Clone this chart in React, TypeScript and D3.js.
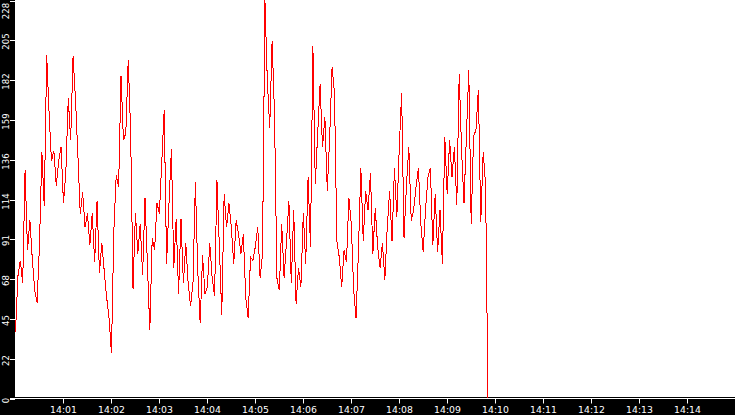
import { useEffect, useRef } from 'react';
import * as d3 from 'd3';

// samples every 3 s starting 14:00:00
const startTime = new Date(2024, 0, 1, 14, 0, 0);
const sampleStepSec = 3;
const endTime = new Date(2024, 0, 1, 14, 15, 0);

const values = [
  38, 70, 79, 66, 131, 85, 102, 80, 62, 55,
  88, 141, 110, 197, 164, 136, 142, 122, 136, 144,
  112, 130, 172, 148, 196, 172, 140, 106, 118, 98,
  106, 88, 106, 78, 113, 72, 89, 73, 58, 46,
  26, 96, 128, 121, 185, 148, 152, 194, 153, 63,
  106, 83, 100, 71, 115, 77, 39, 92, 85, 112,
  106, 136, 165, 77, 112, 143, 75, 103, 60, 103,
  66, 89, 66, 53, 66, 124, 73, 43, 82, 60,
  64, 89, 69, 59, 125, 87, 48, 117, 98, 112,
  98, 77, 102, 94, 83, 94, 58, 46, 81, 79,
  87, 98, 69, 83, 228, 182, 155, 205, 163, 69,
  62, 100, 69, 90, 113, 66, 108, 54, 75, 64,
  106, 77, 127, 87, 202, 123, 152, 180, 144, 161,
  119, 150, 190, 175, 90, 81, 64, 85, 78, 115,
  100, 62, 46, 85, 132, 90, 119, 108, 129, 83,
  109, 87, 75, 89, 68, 98, 119, 90, 132, 104,
  143, 175, 92, 122, 144, 102, 108, 121, 132, 100,
  84, 109, 127, 132, 88, 117, 84, 108, 77, 150,
  117, 148, 127, 144, 111, 186, 142, 112, 150, 188,
  100, 150, 154, 177, 101, 141, 123, 0,
];

const yMax = 228;
const yTickLabels = ['0', '22', '45', '68', '91', '114', '136', '159', '182', '205', '228'];
const xTickLabels = ['14:01', '14:02', '14:03', '14:04', '14:05', '14:06', '14:07', '14:08', '14:09', '14:10', '14:11', '14:12', '14:13', '14:14'];

export default function App() {
  const svgRef = useRef<SVGSVGElement>(null);

  useEffect(() => {
    if (!svgRef.current) return;
    const width = 735;
    const height = 415;
    const margin = { left: 15.5, bottom: 16.5, top: 0.5 };
    const axisY = height - margin.bottom;

    const svg = d3.select(svgRef.current);
    svg.selectAll('*').remove();
    svg.attr('width', width).attr('height', height);

    svg.append('rect').attr('width', width).attr('height', height).attr('fill', '#000');
    svg
      .append('rect')
      .attr('x', 15)
      .attr('y', 0)
      .attr('width', width - 15)
      .attr('height', axisY - 1.5)
      .attr('fill', '#fff');

    const x = d3.scaleTime().domain([startTime, endTime]).range([margin.left, width]);
    const y = d3.scaleLinear().domain([0, yMax]).range([axisY, margin.top]);

    const data: [Date, number][] = values.map((v, i) => [
      new Date(startTime.getTime() + i * sampleStepSec * 1000),
      v,
    ]);

    const line = d3
      .line<[Date, number]>()
      .x((d) => x(d[0]))
      .y((d) => y(d[1]));

    svg
      .append('path')
      .datum(data)
      .attr('d', line)
      .attr('fill', 'none')
      .attr('stroke', '#ff0000')
      .attr('stroke-width', 1)
      .attr('shape-rendering', 'crispEdges');

    // x axis
    svg
      .append('line')
      .attr('x1', 10)
      .attr('x2', width)
      .attr('y1', axisY)
      .attr('y2', axisY)
      .attr('stroke', '#fff')
      .attr('stroke-width', 1);

    const xTicks = xTickLabels.map((lbl) => {
      const [h, m] = lbl.split(':').map(Number);
      return { lbl, t: new Date(2024, 0, 1, h, m, 0) };
    });
    const xg = svg.append('g');
    xTicks.forEach(({ lbl, t }) => {
      const px = Math.round(x(t)) + 0.5;
      xg.append('line')
        .attr('x1', px)
        .attr('x2', px)
        .attr('y1', axisY)
        .attr('y2', axisY + 5)
        .attr('stroke', '#fff');
      xg.append('text')
        .attr('x', px)
        .attr('y', 413)
        .attr('text-anchor', 'middle')
        .attr('font-family', 'DejaVu Sans, sans-serif')
        .attr('font-size', 9.3)
        .attr('fill', '#fff')
        .text(lbl);
    });

    // y axis
    const yg = svg.append('g');
    yTickLabels.forEach((lbl, i) => {
      const py = Math.round(y((yMax * i) / (yTickLabels.length - 1))) + 0.5;
      yg.append('line')
        .attr('x1', 10)
        .attr('x2', 15)
        .attr('y1', py)
        .attr('y2', py)
        .attr('stroke', '#fff');
      // keep the top label inside the picture
      const cy = Math.max(py + 1, 11);
      yg.append('text')
        .attr('transform', `translate(9,${cy}) rotate(-90)`)
        .attr('text-anchor', 'middle')
        .attr('font-family', 'DejaVu Sans Condensed, DejaVu Sans, sans-serif')
        .attr('font-size', 9.5)
        .attr('fill', '#fff')
        .text(lbl);
    });
  }, []);

  return <svg ref={svgRef} style={{ position: 'absolute', left: 0, top: 0, display: 'block' }} />;
}
